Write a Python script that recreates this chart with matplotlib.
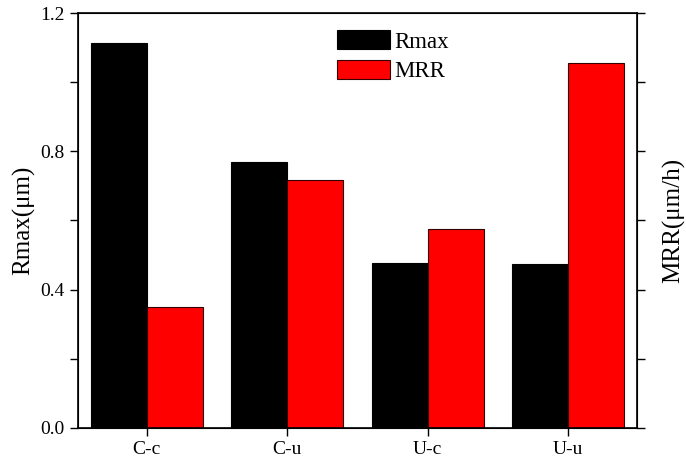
import matplotlib
matplotlib.use("Agg")
import matplotlib.pyplot as plt
import numpy as np
from matplotlib.ticker import MultipleLocator

categories = ["C-c", "C-u", "U-c", "U-u"]
rmax = [1.113, 0.769, 0.477, 0.474]
mrr = [0.350, 0.717, 0.575, 1.056]

plt.rcParams['font.family'] = ['Liberation Serif', 'DejaVu Serif']

fig = plt.figure(figsize=(6.86, 4.61), dpi=100)
ax = fig.add_axes([0.1137, 0.0716, 0.8149, 0.9002])
x = np.arange(len(categories))
w = 0.4
ax.bar(x - w/2, rmax, w, color='black', edgecolor='black', linewidth=0.8, label='Rmax')
ax.bar(x + w/2, mrr, w, color='#ff0000', edgecolor='#330000', linewidth=0.8, label='MRR')
ax.set_xlim(-0.49, 3.49)
ax.set_ylim(0, 1.2)
ax.set_xticks(x)
ax.set_xticklabels(categories, fontsize=14)
ax.yaxis.set_major_locator(MultipleLocator(0.4))
ax.yaxis.set_minor_locator(MultipleLocator(0.2))
ax.yaxis.set_major_formatter(matplotlib.ticker.FormatStrFormatter('%.1f'))
ax.tick_params(axis='y', which='both', direction='out', length=6, width=1, labelsize=14)
ax.tick_params(axis='x', direction='out', length=6, width=1, labelsize=14)
ax.set_ylabel('Rmax(μm)', fontsize=18)
for s in ax.spines.values():
    s.set_linewidth(1.2)

ax2 = ax.twinx()
ax2.set_ylim(0, 1.2)
ax2.yaxis.set_major_locator(MultipleLocator(0.2))
ax2.tick_params(axis='y', direction='out', length=6, width=1, labelright=False)
ax2.set_ylabel('MRR(μm/h)', fontsize=18, labelpad=12)

leg = ax.legend(loc='upper left', bbox_to_anchor=(0.463, 0.958), frameon=False,
                fontsize=16.5, handlelength=2.3, handleheight=0.9, handletextpad=0.2,
                labelspacing=0.3, borderpad=0, borderaxespad=0)

fig.savefig('out.png', dpi=100)
